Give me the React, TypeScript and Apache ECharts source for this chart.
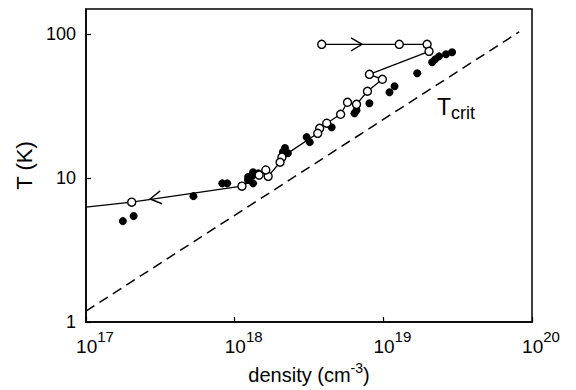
import React, { useEffect, useRef } from "react";
import * as echarts from "echarts";

// Axis ticks
const xTicks = [1e17, 1e18, 1e19, 1e20];
const yTicks = [1, 10, 100];

// Open circles (connected by the solid line, in path order)
const openDensity = [3.85e18, 1.28e19, 1.97e19, 2.03e19, 8.06e18, 9.85e18, 7.82e18, 6.6e18, 5.74e18, 5.16e18, 4.16e18, 3.73e18, 3.62e18, 2.08e18, 2.02e18, 1.68e18, 1.62e18, 1.46e18, 1.12e18, 2.03e17];
const openT = [85.2, 85.2, 85.2, 76.2, 52.7, 48.7, 40.2, 32.6, 33.7, 27.8, 24.1, 22.2, 20.5, 14.0, 12.9, 10.3, 11.4, 10.5, 8.8, 6.81];
// where the line leaves the frame on the left
const lineEnd = [1e17, 6.29];

// Filled circles
const filledDensity = [1.69e19, 2.13e19, 2.23e19, 2.37e19, 2.64e19, 2.9e19, 1.19e19, 1.1e19, 8.06e18, 6.6e18, 6.4e18, 4.49e18, 3.05e18, 3.2e18, 2.18e18, 2.28e18, 2.11e18, 1.33e18, 1.23e18, 1.44e18, 1.31e18, 1.23e18, 1.33e18, 8.25e17, 8.91e17, 5.28e17, 1.77e17, 2.09e17];
const filledT = [53.6, 63.9, 67.0, 70.3, 72.6, 75.0, 43.5, 39.6, 33.2, 29.7, 28.3, 22.6, 19.3, 17.8, 16.2, 14.9, 15.2, 11.0, 10.2, 10.8, 10.5, 9.7, 9.2, 9.2, 9.2, 7.5, 5.03, 5.45];

// Critical temperature line (dashed)
const critDensity = [1e17, 8.2e19];
const critT = [1.19, 104];

// Arrow heads along the path
const arrowDensity = [6.6e18, 2.94e17];
const arrowT = [85.2, 7.26];
const arrowDir = ["right", "left"];

const FONT = "Liberation Sans";

export default function App() {
  const ref = useRef<HTMLDivElement>(null);
  useEffect(() => {
    document.body.style.margin = "0";
    const chart = echarts.init(ref.current!, null, { renderer: "svg" });
    const openData: any[] = openDensity.map((d, i) => [d, openT[i]]);
    openData.push({ value: lineEnd, symbol: "none" });
    const option: any = {
      animation: false,
      backgroundColor: "#fff",
      grid: {
        left: 86,
        right: 44,
        top: 9,
        bottom: 68,
        show: true,
        borderColor: "#000",
        borderWidth: 1.5,
      },
      xAxis: {
        type: "log",
        logBase: 10,
        min: xTicks[0],
        max: xTicks[xTicks.length - 1],
        splitLine: { show: false },
        axisLine: { lineStyle: { color: "#000", width: 1.5 } },
        axisTick: { inside: true, length: 5, lineStyle: { color: "#000", width: 1.2 } },
        axisLabel: {
          margin: 7,
          formatter: (v: number) => {
            const e = Math.round(Math.log10(v));
            return `{b|10}{s|${e}}`;
          },
          rich: {
            b: { fontFamily: FONT, fontSize: 19, color: "#000", lineHeight: 27, verticalAlign: "bottom", padding: [0, 0, 0, 18] },
            s: { fontFamily: FONT, fontSize: 15, color: "#000", lineHeight: 16, verticalAlign: "top" },
          },
        },
        name: "{t|density (cm}{s|-3}{t|)}",
        nameLocation: "middle",
        nameGap: 39,
        nameTextStyle: {
          rich: {
            t: { fontFamily: FONT, fontSize: 20, color: "#000", lineHeight: 24, verticalAlign: "bottom" },
            s: { fontFamily: FONT, fontSize: 14, color: "#000", lineHeight: 16, verticalAlign: "top" },
          },
        },
      },
      yAxis: {
        type: "log",
        logBase: 10,
        min: 1,
        max: 150,
        splitLine: { show: false },
        axisLine: { lineStyle: { color: "#000", width: 1.5 } },
        axisTick: { inside: true, length: 5, lineStyle: { color: "#000", width: 1.2 } },
        axisLabel: {
          margin: 10,
          fontFamily: FONT,
          fontSize: 18,
          color: "#000",
          showMaxLabel: false,
          formatter: (v: number) => {
            const hit = yTicks.find((t) => Math.abs(t - v) / t < 1e-6);
            return hit !== undefined ? String(hit) : "";
          },
        },
        name: "T (K)",
        nameLocation: "middle",
        nameGap: 44,
        nameTextStyle: { fontFamily: FONT, fontSize: 22, color: "#000" },
      },
      series: [
        {
          type: "line",
          data: critDensity.map((d, i) => [d, critT[i]]),
          symbol: "none",
          lineStyle: { color: "#000", width: 1.5, type: [10, 6] },
          z: 1,
        },
        {
          type: "scatter",
          data: filledDensity.map((d, i) => [d, filledT[i]]),
          symbol: "circle",
          symbolSize: 8,
          itemStyle: { color: "#000", opacity: 1 },
          z: 2,
        },
        {
          type: "line",
          data: openData,
          symbol: "circle",
          symbolSize: 8,
          showAllSymbol: true,
          lineStyle: { color: "#000", width: 1.3 },
          itemStyle: { color: "#fff", borderColor: "#000", borderWidth: 1.4 },
          z: 3,
        },
        {
          type: "scatter",
          data: arrowDensity.map((d, i) => ({
            value: [d, arrowT[i]],
            symbol: arrowDir[i] === "right" ? "path://M0,0 L10,6 L0,12" : "path://M10,0 L0,6 L10,12",
            symbolRotate: arrowDir[i] === "right" ? 0 : 8,
          })),
          symbolSize: [11, 13],
          itemStyle: { color: "none", borderColor: "#000", borderWidth: 1.4, opacity: 1 },
          z: 4,
        },
      ],
      graphic: [
        {
          type: "text",
          left: 437,
          top: 95,
          style: {
            text: "{T|T}{c|crit}",
            rich: {
              T: { fontFamily: FONT, fontSize: 23, fill: "#000", lineHeight: 27, verticalAlign: "top" },
              c: { fontFamily: FONT, fontSize: 18, fill: "#000", lineHeight: 19, verticalAlign: "bottom" },
            },
          },
        },
      ],
    };
    chart.setOption(option);
    return () => chart.dispose();
  }, []);
  return <div ref={ref} style={{ width: 576, height: 390 }} />;
}
